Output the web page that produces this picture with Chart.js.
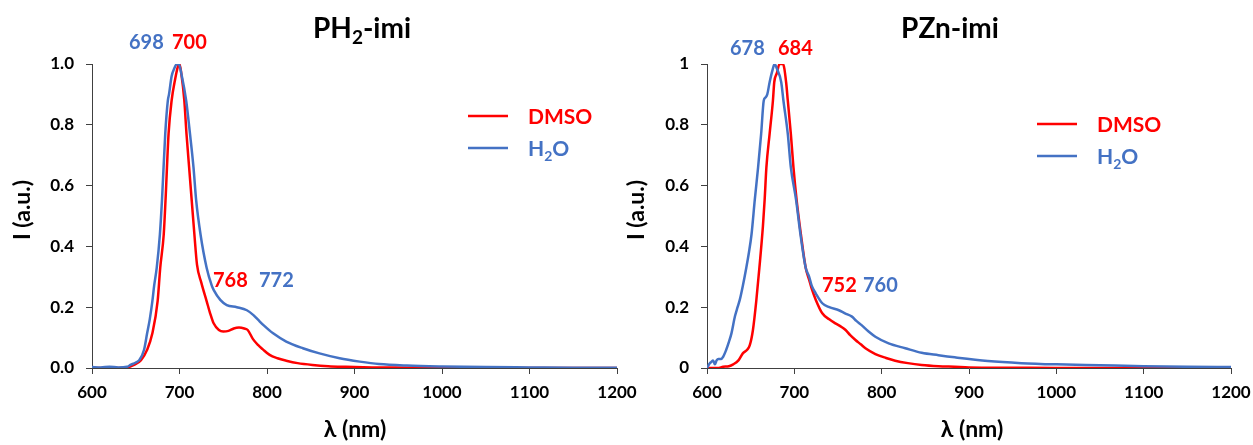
<!DOCTYPE html>
<html>
<head>
<meta charset="utf-8">
<script src="https://cdn.jsdelivr.net/npm/chart.js@4.4.0/dist/chart.umd.min.js"></script>
<style>
  html, body { margin: 0; padding: 0; background: #fff; }
  body { width: 1253px; height: 445px; position: relative; overflow: hidden; }
  canvas { position: absolute; top: 0; }
  #ph2 { left: 0; }
  #pzn { left: 620px; }
</style>
</head>
<body>
<canvas id="ph2" width="660" height="445"></canvas>
<canvas id="pzn" width="660" height="445"></canvas>
<script>
// ─── DATA ────────────────────────────────────────────────────────────────────
const RED = '#ff0000';
const BLUE = '#4472c4';
const AXIS = '#404040';
const FONT = 'Lato, "Open Sans", sans-serif';

const xTicks = [600, 700, 800, 900, 1000, 1100, 1200];
const yTicksLeft = ['0.0', '0.2', '0.4', '0.6', '0.8', '1.0'];
const yTicksRight = ['0', '0.2', '0.4', '0.6', '0.8', '1'];

// PH2-imi, DMSO
const ph2DmsoNm = [600, 620, 640, 648, 656, 663, 669, 675, 678, 682, 684, 687.5, 691, 695, 698, 700, 702, 705.5, 708, 711, 714, 717, 720, 725, 731, 735, 739, 745, 750, 756, 762, 768, 774, 778, 784, 790, 795, 803, 812, 822, 835, 852, 870, 890, 920, 960, 1000, 1100, 1200];
const ph2DmsoI  = [0, 0, 0.002, 0.01, 0.026, 0.06, 0.114, 0.22, 0.33, 0.44, 0.55, 0.77, 0.88, 0.95, 0.99, 1.0, 0.97, 0.88, 0.77, 0.66, 0.55, 0.44, 0.34, 0.28, 0.22, 0.18, 0.147, 0.125, 0.12, 0.122, 0.13, 0.133, 0.13, 0.125, 0.095, 0.075, 0.062, 0.043, 0.032, 0.024, 0.016, 0.01, 0.006, 0.004, 0.002, 0.001, 0, 0, 0];

// PH2-imi, H2O
const ph2WaterNm = [600, 610, 620, 630, 640, 644, 650, 654, 659.5, 663, 666, 669, 671, 674, 677.6, 680, 683.7, 686.7, 688, 691, 694, 697, 699, 702.7, 707.6, 712, 716, 719, 724, 731, 737, 739, 746.6, 754, 765.5, 777, 784.5, 790, 796, 807, 822, 841, 860, 883, 906, 928, 960, 1000, 1050, 1100, 1150, 1200];
const ph2WaterI  = [0.003, 0.002, 0.004, 0.002, 0.004, 0.01, 0.018, 0.026, 0.06, 0.114, 0.16, 0.22, 0.27, 0.33, 0.44, 0.553, 0.77, 0.88, 0.9, 0.96, 0.985, 1.0, 1.0, 0.96, 0.88, 0.77, 0.66, 0.553, 0.44, 0.33, 0.27, 0.257, 0.224, 0.207, 0.2, 0.19, 0.174, 0.158, 0.141, 0.114, 0.087, 0.065, 0.048, 0.032, 0.021, 0.013, 0.008, 0.005, 0.003, 0.002, 0.001, 0.001];

// PZn-imi, DMSO
const pznDmsoNm = [600, 612, 618.5, 625, 630, 636, 641, 646, 649, 652.6, 656.4, 660, 664, 666, 668, 671.7, 675.5, 677, 680, 683, 687, 690.6, 692.5, 696, 699, 702.6, 707.5, 713, 717, 720, 724.6, 732, 740, 747, 753, 758.7, 764, 770, 776, 781.4, 792.8, 805, 815.5, 830, 845.8, 865, 883.7, 900, 950, 1000, 1200];
const pznDmsoI  = [0, 0, 0.004, 0.006, 0.012, 0.025, 0.048, 0.06, 0.075, 0.125, 0.22, 0.33, 0.465, 0.553, 0.66, 0.77, 0.88, 0.94, 0.97, 1.0, 1.0, 0.94, 0.88, 0.77, 0.66, 0.553, 0.44, 0.33, 0.29, 0.26, 0.224, 0.18, 0.16, 0.147, 0.137, 0.125, 0.108, 0.092, 0.078, 0.065, 0.046, 0.033, 0.024, 0.016, 0.01, 0.006, 0.004, 0.002, 0.001, 0, 0];

// PZn-imi, H2O
const pznWaterNm = [600, 603, 605, 607, 609, 611, 613, 616, 618.5, 622, 625, 628, 632, 635, 637.5, 641, 645, 648, 651, 654.7, 658.5, 662, 665, 667, 669, 671.7, 675, 677.4, 680, 685, 687.5, 692.5, 696, 702, 707, 713, 717, 720, 724.6, 732, 740, 751, 758, 766, 771, 777, 785, 792.8, 808, 827, 845.8, 865, 883.7, 921.6, 960, 1000, 1050, 1100, 1150, 1200];
const pznWaterI  = [0, 0.015, 0.02, 0.025, 0.012, 0.025, 0.03, 0.03, 0.037, 0.06, 0.085, 0.114, 0.17, 0.2, 0.224, 0.27, 0.33, 0.38, 0.44, 0.553, 0.66, 0.77, 0.88, 0.89, 0.9, 0.94, 0.98, 1.0, 0.985, 0.94, 0.88, 0.77, 0.66, 0.553, 0.44, 0.33, 0.3, 0.27, 0.245, 0.213, 0.2, 0.19, 0.18, 0.169, 0.155, 0.141, 0.12, 0.103, 0.081, 0.065, 0.05, 0.042, 0.035, 0.023, 0.016, 0.012, 0.009, 0.006, 0.004, 0.003];

const ph2Peaks = ['698', '700', '768', '772'];
const pznPeaks = ['678', '684', '752', '760'];
const seriesNames = ['DMSO', 'H2O'];

// ─── HELPERS ─────────────────────────────────────────────────────────────────
function pts(xs, ys) { return xs.map((x, i) => ({ x, y: ys[i] })); }

// draws text runs with optional subscripts; align 'left' | 'center'
function drawRuns(ctx, x, y, runs, size, color, align) {
    const sub = Math.round(size * 0.68);
    let w = 0;
    runs.forEach(r => {
        ctx.font = `bold ${r.sub ? sub : size}px ${FONT}`;
        w += ctx.measureText(r.t).width;
    });
    let cx = align === 'center' ? x - w / 2 : x;
    ctx.fillStyle = color;
    ctx.textBaseline = 'alphabetic';
    ctx.textAlign = 'left';
    runs.forEach(r => {
        ctx.font = `bold ${r.sub ? sub : size}px ${FONT}`;
        ctx.fillText(r.t, cx, r.sub ? y + size * 0.22 : y);
        cx += ctx.measureText(r.t).width;
    });
}

function legendRuns(name) {
    return name === 'H2O' ? [{ t: 'H' }, { t: '2', sub: true }, { t: 'O' }] : [{ t: name }];
}

function annotPlugin(spec) {
    return {
        id: 'annot',
        afterDraw(chart) {
            const ctx = chart.ctx;
            ctx.save();
            drawRuns(ctx, spec.title.x, spec.title.y, spec.title.runs, 28, '#000', 'center');
            spec.peaks.forEach(p => drawRuns(ctx, p.x, p.y, [{ t: p.t }], 20, p.c, 'left'));
            spec.legend.forEach(l => {
                ctx.strokeStyle = l.c;
                ctx.lineWidth = 2.5;
                ctx.beginPath();
                ctx.moveTo(l.x, l.y);
                ctx.lineTo(l.x + 40, l.y);
                ctx.stroke();
                drawRuns(ctx, l.x + 60, l.y + 8, legendRuns(l.name), 21, l.c, 'left');
            });
            // axis titles
            drawRuns(ctx, spec.xTitle.x, spec.xTitle.y, [{ t: 'λ (nm)' }], 23, '#000', 'center');
            ctx.translate(spec.yTitle.x, spec.yTitle.y);
            ctx.rotate(-Math.PI / 2);
            drawRuns(ctx, 0, 0, [{ t: 'I (a.u.)' }], 23, '#000', 'center');
            ctx.restore();
        }
    };
}

function makeChart(id, cfg) {
    const tickFont = { family: FONT, size: 17, weight: 'bold' };
    return new Chart(document.getElementById(id), {
        type: 'line',
        data: {
            datasets: [
                { label: seriesNames[1], data: pts(cfg.waterNm, cfg.waterI), borderColor: BLUE, borderWidth: 2.5, pointRadius: 0, cubicInterpolationMode: 'monotone' },
                { label: seriesNames[0], data: pts(cfg.dmsoNm, cfg.dmsoI), borderColor: RED, borderWidth: 2.5, pointRadius: 0, cubicInterpolationMode: 'monotone' }
            ]
        },
        options: {
            responsive: false,
            animation: false,
            layout: { padding: { top: 64, right: cfg.padRight, left: 0, bottom: 0 } },
            plugins: { legend: { display: false }, title: { display: false }, tooltip: { enabled: false } },
            scales: {
                x: {
                    type: 'linear', min: xTicks[0], max: xTicks[xTicks.length - 1],
                    afterBuildTicks: s => { s.ticks = xTicks.map(v => ({ value: v })); },
                    ticks: { color: '#000', font: tickFont, padding: 8, maxRotation: 0, autoSkip: false,
                             callback: v => String(v) },
                    grid: { drawOnChartArea: false, drawTicks: true, tickLength: 6, color: AXIS },
                    border: { color: AXIS, width: 1 },
                    afterFit: s => { s.height = 77; }
                },
                y: {
                    min: 0, max: 1,
                    ticks: { stepSize: 0.2, color: '#000', font: tickFont, padding: 12,
                             callback: (v, i) => cfg.yLabels[i] },
                    grid: { drawOnChartArea: false, drawTicks: true, tickLength: 6, color: AXIS },
                    border: { color: AXIS, width: 1 },
                    afterFit: s => { s.width = cfg.yWidth; }
                }
            }
        },
        plugins: [annotPlugin(cfg.annot)]
    });
}

// ─── CHARTS ──────────────────────────────────────────────────────────────────
makeChart('ph2', {
    dmsoNm: ph2DmsoNm, dmsoI: ph2DmsoI, waterNm: ph2WaterNm, waterI: ph2WaterI,
    yLabels: yTicksLeft, yWidth: 92, padRight: 43,
    annot: {
        title: { x: 362, y: 38, runs: [{ t: 'PH' }, { t: '2', sub: true }, { t: '-imi' }] },
        peaks: [
            { t: ph2Peaks[0], x: 129, y: 49, c: BLUE },
            { t: ph2Peaks[1], x: 172, y: 49, c: RED },
            { t: ph2Peaks[2], x: 213, y: 287, c: RED },
            { t: ph2Peaks[3], x: 259, y: 287, c: BLUE }
        ],
        legend: [
            { name: seriesNames[0], x: 468, y: 116, c: RED },
            { name: seriesNames[1], x: 468, y: 148, c: BLUE }
        ],
        xTitle: { x: 355, y: 437 },
        yTitle: { x: 30, y: 210 }
    }
});

makeChart('pzn', {
    dmsoNm: pznDmsoNm, dmsoI: pznDmsoI, waterNm: pznWaterNm, waterI: pznWaterI,
    yLabels: yTicksRight, yWidth: 87, padRight: 49,
    annot: {
        title: { x: 330, y: 38, runs: [{ t: 'PZn-imi' }] },
        peaks: [
            { t: pznPeaks[0], x: 110, y: 55, c: BLUE },
            { t: pznPeaks[1], x: 158, y: 55, c: RED },
            { t: pznPeaks[2], x: 202, y: 292, c: RED },
            { t: pznPeaks[3], x: 243, y: 292, c: BLUE }
        ],
        legend: [
            { name: seriesNames[0], x: 417, y: 124, c: RED },
            { name: seriesNames[1], x: 417, y: 156, c: BLUE }
        ],
        xTitle: { x: 352, y: 437 },
        yTitle: { x: 24, y: 210 }
    }
});
</script>
</body>
</html>
